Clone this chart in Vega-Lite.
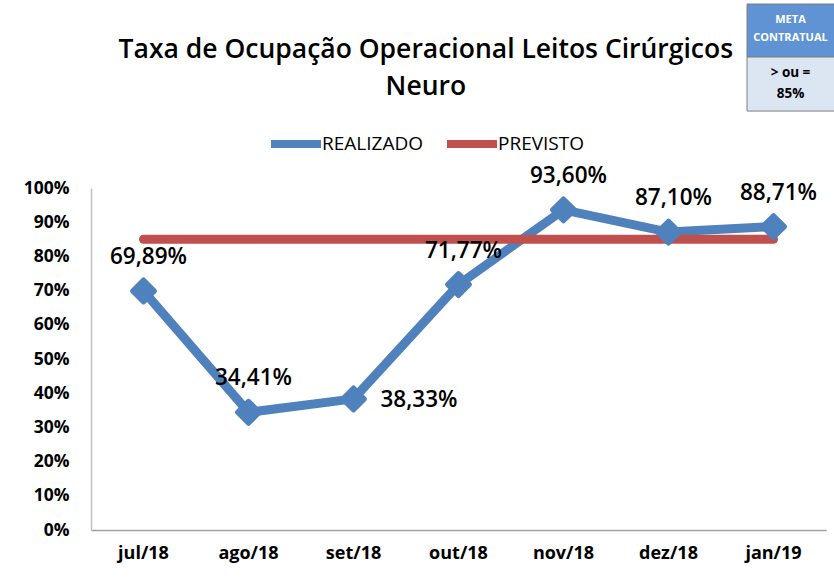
{
  "$schema": "https://vega.github.io/schema/vega-lite/v6.json",
  "width": 735,
  "height": 342,
  "autosize": "none",
  "padding": {"left": 91, "top": 188, "right": 8, "bottom": 52},
  "background": "white",
  "config": {
    "view": {"stroke": null},
    "locale": {"number": {"decimal": ",", "thousands": ".", "grouping": [3], "currency": ["", " €"]}},
    "font": "Open Sans"
  },
  "title": {
    "text": ["Taxa de Ocupação Operacional Leitos Cirúrgicos", "Neuro"],
    "fontSize": 26.5,
    "fontWeight": 600,
    "font": "Open Sans",
    "color": "#000000",
    "lineHeight": 37,
    "anchor": "middle",
    "frame": "bounds",
    "offset": -97,
    "dx": -12
  },
  "data": {
    "values": [
      {"mes": "jul/18", "REALIZADO": 0.6989, "PREVISTO": 0.85},
      {"mes": "ago/18", "REALIZADO": 0.3441, "PREVISTO": 0.85},
      {"mes": "set/18", "REALIZADO": 0.3833, "PREVISTO": 0.85},
      {"mes": "out/18", "REALIZADO": 0.7177, "PREVISTO": 0.85},
      {"mes": "nov/18", "REALIZADO": 0.936, "PREVISTO": 0.85},
      {"mes": "dez/18", "REALIZADO": 0.871, "PREVISTO": 0.85},
      {"mes": "jan/19", "REALIZADO": 0.8871, "PREVISTO": 0.85}
    ]
  },
  "encoding": {
    "x": {
      "field": "mes",
      "type": "ordinal",
      "sort": null,
      "scale": {"paddingInner": 0, "paddingOuter": 0},
      "axis": {
        "title": null,
        "labelAngle": 0,
        "labelFontSize": 18,
        "labelFontWeight": "bold",
        "labelColor": "#000000",
        "labelPadding": 14,
        "ticks": false,
        "domainColor": "#A0A0A0",
        "domainWidth": 1.5
      }
    },
    "y": {
      "type": "quantitative",
      "scale": {"domain": [0, 1]},
      "axis": {
        "title": null,
        "format": ".0%",
        "values": [0, 0.1, 0.2, 0.3, 0.4, 0.5, 0.6, 0.7, 0.8, 0.9, 1],
        "labelFontSize": 17.5,
        "labelFontWeight": "bold",
        "labelColor": "#000000",
        "labelPadding": 22,
        "ticks": false,
        "grid": false,
        "domainColor": "#C0C0C0",
        "domainWidth": 1.5
      }
    }
  },
  "layer": [
    {
      "transform": [{"fold": ["REALIZADO", "PREVISTO"], "as": ["serie", "valor"]}],
      "mark": {"type": "line", "strokeWidth": 9, "strokeJoin": "round", "strokeCap": "round"},
      "encoding": {
        "y": {"field": "valor", "type": "quantitative"},
        "color": {
          "field": "serie",
          "type": "nominal",
          "scale": {"domain": ["REALIZADO", "PREVISTO"], "range": ["#4F81BD", "#C0504D"]},
          "legend": {
            "title": null,
            "orient": "none",
            "legendX": 176,
            "legendY": -73,
            "direction": "horizontal",
            "symbolType": "stroke",
            "symbolStrokeWidth": 8,
            "symbolSize": 2500,
            "labelFontSize": 19,
            "labelColor": "#000000",
            "labelOffset": -3,
            "columnPadding": 8
          }
        }
      }
    },
    {
      "mark": {"type": "point", "shape": "diamond", "filled": true, "size": 480, "color": "#4F81BD", "stroke": "#4F81BD", "strokeWidth": 5, "strokeJoin": "round", "opacity": 1},
      "encoding": {"y": {"field": "REALIZADO", "type": "quantitative"}}
    },
    {
      "transform": [{"filter": "datum.mes !== 'set/18'"}],
      "mark": {"type": "text", "fontSize": 22.5, "fontWeight": 600, "color": "#000000", "dy": -34, "dx": 5, "align": "center", "baseline": "middle"},
      "encoding": {
        "y": {"field": "REALIZADO", "type": "quantitative"},
        "text": {"field": "REALIZADO", "type": "quantitative", "format": ".2%"}
      }
    },
    {
      "transform": [{"filter": "datum.mes === 'set/18'"}],
      "mark": {"type": "text", "fontSize": 22.5, "fontWeight": 600, "color": "#000000", "dx": 27, "dy": 1, "align": "left", "baseline": "middle"},
      "encoding": {
        "y": {"field": "REALIZADO", "type": "quantitative"},
        "text": {"field": "REALIZADO", "type": "quantitative", "format": ".2%"}
      }
    },
    {
      "data": {"values": [{"t": "META"}]},
      "mark": {"type": "rect", "color": "#5F93D3", "xOffset": 26, "stroke": "#7F7F7F", "strokeWidth": 1},
      "encoding": {"x": {"datum": "jan/19"}, "y": {"datum": 1.538}, "y2": {"datum": 1.383}}
    },
    {
      "data": {"values": [{"t": "META"}]},
      "mark": {"type": "rect", "color": "#DCE6F2", "xOffset": 26, "stroke": "#7F7F7F", "strokeWidth": 1},
      "encoding": {"x": {"datum": "jan/19"}, "y": {"datum": 1.383}, "y2": {"datum": 1.225}}
    },
    {
      "data": {"values": [{"t": ["META", "CONTRATUAL"]}]},
      "mark": {"type": "text", "fontSize": 11, "fontWeight": "bold", "color": "#FFFFFF", "dx": 17, "lineHeight": 18, "align": "center", "baseline": "middle"},
      "encoding": {"x": {"datum": "jan/19"}, "y": {"datum": 1.49}, "text": {"field": "t"}}
    },
    {
      "data": {"values": [{"t": ["> ou =", "85%"]}]},
      "mark": {"type": "text", "fontSize": 13.5, "fontWeight": "bold", "color": "#000000", "dx": 17, "lineHeight": 21, "align": "center", "baseline": "middle"},
      "encoding": {"x": {"datum": "jan/19"}, "y": {"datum": 1.335}, "text": {"field": "t"}}
    }
  ]
}
